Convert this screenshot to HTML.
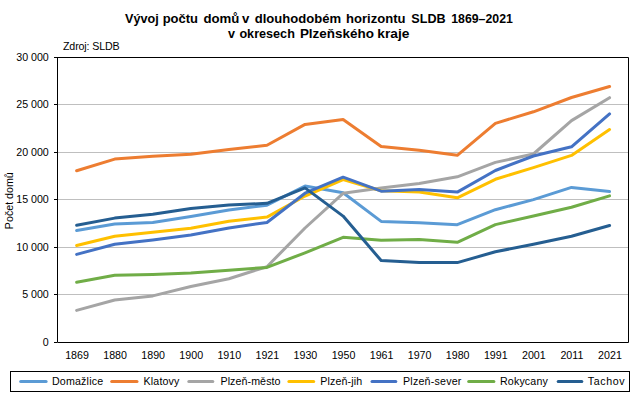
<!DOCTYPE html><html><head><meta charset="utf-8"><style>html,body{margin:0;padding:0;background:#fff;width:639px;height:397px;overflow:hidden}svg{display:block}</style></head><body><svg width="639" height="397" viewBox="0 0 639 397">
<rect width="639" height="397" fill="#fff"/>
<line x1="58" y1="104.5" x2="628" y2="104.5" stroke="#BFBFBF" stroke-width="1"/>
<line x1="58" y1="152.5" x2="628" y2="152.5" stroke="#BFBFBF" stroke-width="1"/>
<line x1="58" y1="199.5" x2="628" y2="199.5" stroke="#BFBFBF" stroke-width="1"/>
<line x1="58" y1="247.5" x2="628" y2="247.5" stroke="#BFBFBF" stroke-width="1"/>
<line x1="58" y1="294.5" x2="628" y2="294.5" stroke="#BFBFBF" stroke-width="1"/>
<path d="M57.5 57.5H628.5V342.5" fill="none" stroke="#000" stroke-width="1"/>
<path d="M57.5 57V342.5H628.5" fill="none" stroke="#000" stroke-width="1"/>
<line x1="54" y1="57.5" x2="57" y2="57.5" stroke="#000" stroke-width="1"/>
<line x1="54" y1="104.5" x2="57" y2="104.5" stroke="#000" stroke-width="1"/>
<line x1="54" y1="152.5" x2="57" y2="152.5" stroke="#000" stroke-width="1"/>
<line x1="54" y1="199.5" x2="57" y2="199.5" stroke="#000" stroke-width="1"/>
<line x1="54" y1="247.5" x2="57" y2="247.5" stroke="#000" stroke-width="1"/>
<line x1="54" y1="294.5" x2="57" y2="294.5" stroke="#000" stroke-width="1"/>
<line x1="54" y1="342.5" x2="57" y2="342.5" stroke="#000" stroke-width="1"/>
<polyline points="76.63,230.40 114.70,224.10 152.77,222.40 190.83,216.50 228.90,209.90 266.97,205.20 305.03,186.00 343.10,192.70 381.17,221.40 419.23,222.80 457.30,224.70 495.37,209.70 533.43,199.60 571.50,187.40 609.57,191.50" fill="none" stroke="#5B9BD5" stroke-width="3" stroke-linejoin="round" stroke-linecap="round"/>
<polyline points="76.63,170.80 114.70,159.10 152.77,156.20 190.83,154.20 228.90,149.60 266.97,145.30 305.03,124.40 343.10,119.60 381.17,146.50 419.23,150.30 457.30,155.30 495.37,123.40 533.43,111.80 571.50,97.50 609.57,86.50" fill="none" stroke="#ED7D31" stroke-width="3" stroke-linejoin="round" stroke-linecap="round"/>
<polyline points="76.63,310.40 114.70,300.00 152.77,295.90 190.83,286.50 228.90,278.70 266.97,266.70 305.03,228.00 343.10,193.30 381.17,188.00 419.23,183.40 457.30,176.80 495.37,162.40 533.43,154.00 571.50,120.60 609.57,97.70" fill="none" stroke="#A5A5A5" stroke-width="3" stroke-linejoin="round" stroke-linecap="round"/>
<polyline points="76.63,245.50 114.70,236.20 152.77,232.20 190.83,228.30 228.90,221.30 266.97,217.10 305.03,196.00 343.10,179.50 381.17,190.80 419.23,192.00 457.30,197.80 495.37,179.30 533.43,167.60 571.50,155.40 609.57,129.50" fill="none" stroke="#FFC000" stroke-width="3" stroke-linejoin="round" stroke-linecap="round"/>
<polyline points="76.63,254.40 114.70,244.30 152.77,239.90 190.83,234.90 228.90,227.90 266.97,222.50 305.03,193.20 343.10,177.20 381.17,191.20 419.23,189.40 457.30,192.10 495.37,170.50 533.43,156.00 571.50,146.80 609.57,113.90" fill="none" stroke="#4472C4" stroke-width="3" stroke-linejoin="round" stroke-linecap="round"/>
<polyline points="76.63,282.20 114.70,275.30 152.77,274.60 190.83,273.10 228.90,270.20 266.97,267.40 305.03,252.80 343.10,237.30 381.17,240.30 419.23,239.40 457.30,242.30 495.37,224.60 533.43,216.00 571.50,207.30 609.57,195.90" fill="none" stroke="#70AD47" stroke-width="3" stroke-linejoin="round" stroke-linecap="round"/>
<polyline points="76.63,225.30 114.70,218.10 152.77,214.30 190.83,208.60 228.90,205.10 266.97,203.30 305.03,187.90 343.10,216.10 381.17,260.60 419.23,262.60 457.30,262.60 495.37,251.80 533.43,244.20 571.50,236.20 609.57,225.50" fill="none" stroke="#255E91" stroke-width="3" stroke-linejoin="round" stroke-linecap="round"/>
<text x="125.1" y="22.5" font-family="Liberation Sans, sans-serif" font-size="13.5" font-weight="bold" textLength="33.66" lengthAdjust="spacingAndGlyphs">Vývoj</text>
<text x="162.64" y="22.5" font-family="Liberation Sans, sans-serif" font-size="13.5" font-weight="bold" textLength="35.39" lengthAdjust="spacingAndGlyphs">počtu</text>
<text x="203.5" y="22.5" font-family="Liberation Sans, sans-serif" font-size="13.5" font-weight="bold" textLength="35.93" lengthAdjust="spacingAndGlyphs">domů</text>
<text x="241.9" y="22.5" font-family="Liberation Sans, sans-serif" font-size="13.5" font-weight="bold" textLength="7.33" lengthAdjust="spacingAndGlyphs">v</text>
<text x="254.7" y="22.5" font-family="Liberation Sans, sans-serif" font-size="13.5" font-weight="bold" textLength="86.33" lengthAdjust="spacingAndGlyphs">dlouhodobém</text>
<text x="346.03" y="22.5" font-family="Liberation Sans, sans-serif" font-size="13.5" font-weight="bold" textLength="59.43" lengthAdjust="spacingAndGlyphs">horizontu</text>
<text x="411.37" y="22.5" font-family="Liberation Sans, sans-serif" font-size="13.5" font-weight="bold" textLength="34.33" lengthAdjust="spacingAndGlyphs">SLDB</text>
<text x="451.19" y="22.5" font-family="Liberation Sans, sans-serif" font-size="13.5" font-weight="bold" textLength="61.64" lengthAdjust="spacingAndGlyphs">1869–2021</text>
<text x="227.9" y="37.6" font-family="Liberation Sans, sans-serif" font-size="13.5" font-weight="bold" textLength="7.0" lengthAdjust="spacingAndGlyphs">v</text>
<text x="239.4" y="37.6" font-family="Liberation Sans, sans-serif" font-size="13.5" font-weight="bold" textLength="55.48" lengthAdjust="spacingAndGlyphs">okresech</text>
<text x="299.9" y="37.6" font-family="Liberation Sans, sans-serif" font-size="13.5" font-weight="bold" textLength="74.08" lengthAdjust="spacingAndGlyphs">Plzeňského</text>
<text x="377.38" y="37.6" font-family="Liberation Sans, sans-serif" font-size="13.5" font-weight="bold" textLength="32.06" lengthAdjust="spacingAndGlyphs">kraje</text>
<text x="63.0" y="49.8" font-family="Liberation Sans, sans-serif" font-size="10.67" textLength="56.6" lengthAdjust="spacing">Zdroj: SLDB</text>
<text x="48.8" y="61.3" font-family="Liberation Sans, sans-serif" font-size="10.67" text-anchor="end">30 000</text>
<text x="48.8" y="108.3" font-family="Liberation Sans, sans-serif" font-size="10.67" text-anchor="end">25 000</text>
<text x="48.8" y="156.3" font-family="Liberation Sans, sans-serif" font-size="10.67" text-anchor="end">20 000</text>
<text x="48.8" y="203.3" font-family="Liberation Sans, sans-serif" font-size="10.67" text-anchor="end">15 000</text>
<text x="48.8" y="251.3" font-family="Liberation Sans, sans-serif" font-size="10.67" text-anchor="end">10 000</text>
<text x="48.8" y="298.3" font-family="Liberation Sans, sans-serif" font-size="10.67" text-anchor="end">5 000</text>
<text x="48.8" y="346.3" font-family="Liberation Sans, sans-serif" font-size="10.67" text-anchor="end">0</text>
<text x="77.03" y="358.8" font-family="Liberation Sans, sans-serif" font-size="10.67" text-anchor="middle">1869</text>
<text x="115.10" y="358.8" font-family="Liberation Sans, sans-serif" font-size="10.67" text-anchor="middle">1880</text>
<text x="153.17" y="358.8" font-family="Liberation Sans, sans-serif" font-size="10.67" text-anchor="middle">1890</text>
<text x="191.23" y="358.8" font-family="Liberation Sans, sans-serif" font-size="10.67" text-anchor="middle">1900</text>
<text x="229.30" y="358.8" font-family="Liberation Sans, sans-serif" font-size="10.67" text-anchor="middle">1910</text>
<text x="267.37" y="358.8" font-family="Liberation Sans, sans-serif" font-size="10.67" text-anchor="middle">1921</text>
<text x="305.43" y="358.8" font-family="Liberation Sans, sans-serif" font-size="10.67" text-anchor="middle">1930</text>
<text x="343.50" y="358.8" font-family="Liberation Sans, sans-serif" font-size="10.67" text-anchor="middle">1950</text>
<text x="381.57" y="358.8" font-family="Liberation Sans, sans-serif" font-size="10.67" text-anchor="middle">1961</text>
<text x="419.63" y="358.8" font-family="Liberation Sans, sans-serif" font-size="10.67" text-anchor="middle">1970</text>
<text x="457.70" y="358.8" font-family="Liberation Sans, sans-serif" font-size="10.67" text-anchor="middle">1980</text>
<text x="495.77" y="358.8" font-family="Liberation Sans, sans-serif" font-size="10.67" text-anchor="middle">1991</text>
<text x="533.83" y="358.8" font-family="Liberation Sans, sans-serif" font-size="10.67" text-anchor="middle">2001</text>
<text x="571.90" y="358.8" font-family="Liberation Sans, sans-serif" font-size="10.67" text-anchor="middle">2011</text>
<text x="609.97" y="358.8" font-family="Liberation Sans, sans-serif" font-size="10.67" text-anchor="middle">2021</text>
<text transform="translate(12.7,200.7) rotate(-90)" font-family="Liberation Sans, sans-serif" font-size="10.67" text-anchor="middle">Počet domů</text>
<rect x="10.5" y="371.5" width="619" height="20" fill="none" stroke="#000" stroke-width="1"/>
<line x1="20.7" y1="381.5" x2="46.1" y2="381.5" stroke="#5B9BD5" stroke-width="3" stroke-linecap="round"/>
<text x="52.0" y="384.8" font-family="Liberation Sans, sans-serif" font-size="10.67" textLength="51.1" lengthAdjust="spacing">Domažlice</text>
<line x1="111.7" y1="381.5" x2="137.0" y2="381.5" stroke="#ED7D31" stroke-width="3" stroke-linecap="round"/>
<text x="143.6" y="384.8" font-family="Liberation Sans, sans-serif" font-size="10.67" textLength="35.8" lengthAdjust="spacing">Klatovy</text>
<line x1="188.8" y1="381.5" x2="212.8" y2="381.5" stroke="#A5A5A5" stroke-width="3" stroke-linecap="round"/>
<text x="220.5" y="384.8" font-family="Liberation Sans, sans-serif" font-size="10.67" textLength="60.0" lengthAdjust="spacing">Plzeň-město</text>
<line x1="288.9" y1="381.5" x2="313.7" y2="381.5" stroke="#FFC000" stroke-width="3" stroke-linecap="round"/>
<text x="320.3" y="384.8" font-family="Liberation Sans, sans-serif" font-size="10.67" textLength="41.9" lengthAdjust="spacing">Plzeň-jih</text>
<line x1="372.0" y1="381.5" x2="395.8" y2="381.5" stroke="#4472C4" stroke-width="3" stroke-linecap="round"/>
<text x="403.0" y="384.8" font-family="Liberation Sans, sans-serif" font-size="10.67" textLength="58.4" lengthAdjust="spacing">Plzeň-sever</text>
<line x1="468.7" y1="381.5" x2="493.9" y2="381.5" stroke="#70AD47" stroke-width="3" stroke-linecap="round"/>
<text x="500.0" y="384.8" font-family="Liberation Sans, sans-serif" font-size="10.67" textLength="47.8" lengthAdjust="spacing">Rokycany</text>
<line x1="558.2" y1="381.5" x2="581.8" y2="381.5" stroke="#255E91" stroke-width="3" stroke-linecap="round"/>
<text x="587.8" y="384.8" font-family="Liberation Sans, sans-serif" font-size="10.67" textLength="36.8" lengthAdjust="spacing">Tachov</text>
</svg></body></html>
